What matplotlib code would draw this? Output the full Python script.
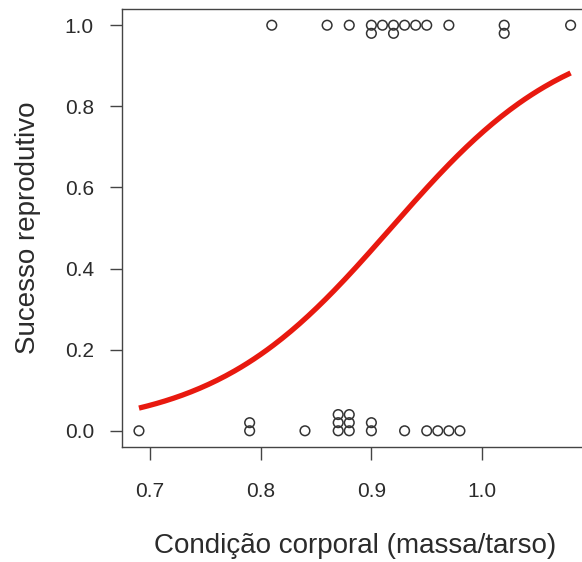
import numpy as np
import matplotlib
matplotlib.use("Agg")
import matplotlib.pyplot as plt

# body condition (mass/tarsus) of birds that failed (0) or succeeded (1)
cond_fail = [0.69, 0.79, 0.79, 0.84, 0.87, 0.87, 0.87, 0.88, 0.88, 0.88,
             0.90, 0.90, 0.93, 0.95, 0.96, 0.97, 0.98]
cond_success = [0.81, 0.86, 0.88, 0.90, 0.90, 0.91, 0.92, 0.92, 0.93, 0.94,
                0.95, 0.97, 1.02, 1.02, 1.08]

X_TICKS = [0.7, 0.8, 0.9, 1.0]
Y_TICKS = [0.0, 0.2, 0.4, 0.6, 0.8, 1.0]
STACK_STEP = 0.02
INK = "#2b2b2b"


def stack_offsets(values, direction):
    # repeated x values are piled up like stripchart(method="stack")
    seen = {}
    out = []
    for v in values:
        k = seen.get(v, 0)
        out.append(direction * k * STACK_STEP)
        seen[v] = k + 1
    return np.array(out)


def fit_logistic(x, y, n_iter=50):
    # plain IRLS for a binomial glm with logit link
    X = np.column_stack([np.ones_like(x), x])
    beta = np.zeros(2)
    for _ in range(n_iter):
        p = 1 / (1 + np.exp(-X @ beta))
        w = p * (1 - p)
        z = X @ beta + (y - p) / w
        beta = np.linalg.solve(X.T @ (X * w[:, None]), X.T @ (w * z))
    return beta


x_all = np.array(cond_fail + cond_success)
y_all = np.array([0] * len(cond_fail) + [1] * len(cond_success), dtype=float)
b0, b1 = fit_logistic(x_all, y_all)

plt.rcParams["font.family"] = ["Liberation Sans", "DejaVu Sans"]

fig = plt.figure(figsize=(5.82, 5.62), dpi=100)
ax = fig.add_axes([0.2091, 0.2046, 0.801, 0.7794])

ax.scatter(cond_fail, 0 + stack_offsets(cond_fail, 1), s=48, facecolors="none",
           edgecolors="#333333", linewidths=1.1, zorder=3)
ax.scatter(cond_success, 1 + stack_offsets(cond_success, -1), s=48,
           facecolors="none", edgecolors="#333333", linewidths=1.1, zorder=3)

xs = np.linspace(x_all.min(), x_all.max(), 200)
ax.plot(xs, 1 / (1 + np.exp(-(b0 + b1 * xs))), color="#e8190f", lw=3.8,
        solid_capstyle="butt", zorder=2)

span = x_all.max() - x_all.min()
ax.set_xlim(x_all.min() - 0.04 * span, x_all.max() + 0.04 * span)
ax.set_ylim(-0.04, 1.04)
ax.set_xticks(X_TICKS)
ax.set_xticklabels([f"{t:.1f}" for t in X_TICKS])
ax.set_yticks(Y_TICKS)
ax.set_yticklabels([f"{t:.1f}" for t in Y_TICKS])

for s in ax.spines.values():
    s.set_color("#444444")
    s.set_linewidth(1.0)
ax.tick_params(length=9, width=1.0, color="#444444", labelcolor=INK,
               labelsize=15)
ax.tick_params(axis="x", pad=16.5)
ax.tick_params(axis="y", pad=11)

ax.set_xlabel("Condição corporal (massa/tarso)", fontsize=20, color=INK,
              labelpad=23)
ax.set_ylabel("Sucesso reprodutivo", fontsize=20, color=INK, labelpad=17)

fig.savefig("out.png", dpi=100)
